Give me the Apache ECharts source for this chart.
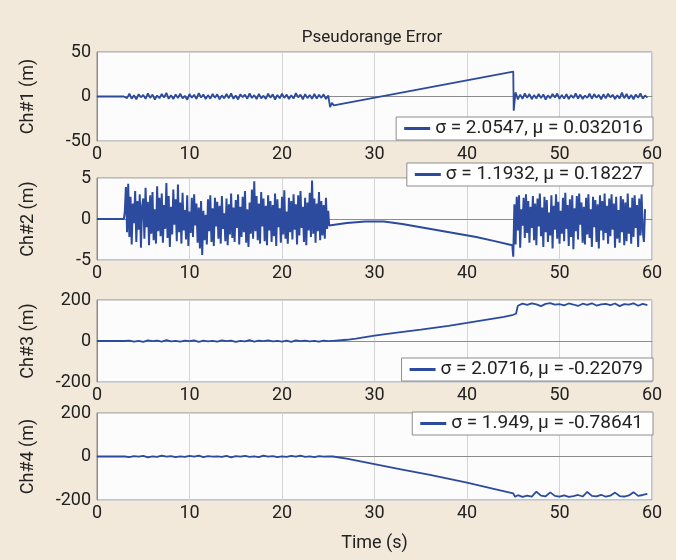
<!DOCTYPE html>
<html>
<head>
<meta charset="utf-8">
<script src="https://cdn.jsdelivr.net/npm/echarts@6/dist/echarts.min.js"></script>
<style>
  html, body { margin: 0; padding: 0; background: #f2e9da; }
  #chart { width: 676px; height: 560px; }
</style>
</head>
<body>
<div id="chart"></div>
<script>
// legend labels and axis names
const channelNames = ["Ch#1 (m)", "Ch#2 (m)", "Ch#3 (m)", "Ch#4 (m)"]
const legendNames = [
  "σ = 2.0547, μ = 0.032016",
  "σ = 1.1932, μ = 0.18227",
  "σ = 2.0716, μ = -0.22079",
  "σ = 1.949, μ = -0.78641"
]
const xTicks = [0, 10, 20, 30, 40, 50, 60]

// Ch#1: flat, noisy (every 0.25 s), ramp, jump, noisy
const ch1Head = [[0, 0], [2.9, 0]]
const ch1NoiseA = [2.1, -1.8, 3.2, -2.5, 1.4, -3.1, 2.6, -0.9, 1.8, -2.7, 3.5, -1.6,
  2.2, -3.4, 1.1, -2.0, 2.9, -1.2, 4.1, -2.6, 1.5, -3.0, 2.4, -1.7,
  3.3, -2.2, 0.8, -3.6, 2.7, -1.4, 1.9, -2.8, 3.8, -1.1, 2.3, -2.9,
  1.6, -2.4, 3.0, -1.5, 2.5, -3.2, 1.3, -2.1, 2.8, -1.9, 3.4, -2.6,
  1.2, -3.3, 2.6, -0.8, 2.0, -2.5, 3.6, -1.7, 1.5, -3.0, 2.9, -2.2,
  0.9, -2.7, 3.1, -1.3, 2.4, -3.5, 1.7, -2.0, 3.3, -1.6, 2.2, -2.8,
  1.4, -2.3, 3.7, -1.0, 2.1, -3.1, 2.7, -1.8, 1.6, -2.6, 3.0, -2.4,
  1.9, -1.5, 2.5, -2.9, 1.2]
const ch1Mid = [[25.2, -12], [25.4, -7], [25.6, -10], [45, 28], [45.05, -16]]
const ch1NoiseB = [4.8, -3.2, 2.1, -2.6, 3.4, -1.5, 2.8, -3.1, 1.6, -2.2, 3.0, -1.8,
  2.4, -3.5, 1.3, -2.0, 2.9, -1.2, 3.3, -2.7, 1.8, -2.4, 2.6, -3.0,
  1.5, -1.7, 3.6, -2.3, 2.2, -2.9, 1.1, -1.6, 3.1, -2.5, 2.7, -1.4,
  1.9, -3.3, 2.5, -2.1, 3.2, -1.0, 2.0, -2.8, 1.4, -2.2, 4.3, -1.9,
  2.8, -2.6, 1.7, -3.1, 2.3, -1.5, 3.5, -2.4, 1.2, -1.3]

// Ch#2: noise every 0.125 s
const ch2Head = [[0, 0], [2.9, 0]]
const ch2NoiseA = [0.8, 3.9, -1.6, 4.3, -2.2, 2.7, -3.1, 1.9, -0.5, 3.4, -2.8, 2.2, -1.3, 3.0, -3.5, 1.6,
  2.5, -2.4, 3.8, -1.0, 2.1, -3.2, 2.9, -1.8, 3.3, -2.6, 1.2, -3.0, 4.0, -1.5, 2.6, -2.1,
  3.1, -2.9, 1.7, -1.2, 4.4, -2.3, 2.8, -3.4, 1.5, -1.9, 3.6, -0.7, 2.4, -2.7, 4.2, -1.6,
  2.0, -3.0, 3.2, -1.4, 1.1, -2.5, 2.9, -3.3, 0.9, -1.7, 2.6, -2.2, 3.0, -0.8, 1.9, -2.9,
  1.4, -3.6, 2.2, -4.4, 1.0, -2.6, 0.5, -3.1, 2.4, -1.5, 2.9, -2.8, 1.3, -3.3, 2.6, -0.9,
  2.1, -2.4, 1.6, -3.0, 2.8, -1.2, 0.7, -2.7, 2.5, -3.2, 1.8, -1.9, 3.1, -2.3, 1.4, -2.8,
  2.3, -1.1, 3.0, -3.1, 1.5, -2.2, 2.7, -1.6, 3.4, -2.9, 1.2, -3.4, 2.0, -1.8, 3.6, -2.4,
  4.6, -1.5, 2.8, -2.6, 1.9, -3.0, 3.3, -0.9, 2.5, -2.7, 1.6, -3.2, 2.9, -1.4, 2.2, -2.8,
  1.7, -2.1, 3.1, -3.3, 2.4, -1.0, 1.3, -2.9, 2.7, -1.9, 3.5, -2.4, 0.9, -3.0, 2.6, -1.6,
  2.2, -2.5, 3.0, -1.3, 1.8, -3.1, 2.9, -2.0, 3.4, -1.1, 1.5, -2.8, 2.6, -3.2, 2.0, -1.4,
  3.2, -2.2, 4.7, -1.8, 2.5, -2.9, 1.9, -1.5, 3.3, -2.6, 2.2, -2.0, 1.7, -2.4, 2.6, -1.2,
  1.0]
const ch2Mid = [[25.1, -0.8], [27, -0.5], [29, -0.3], [31, -0.3], [33, -0.6],
  [35, -1.0], [37, -1.4], [39, -1.8], [41, -2.2], [43, -2.7], [44.9, -3.2], [45, -4.6]]
const ch2NoiseB = [1.8, -3.1, 2.7, -1.4, 2.9, -3.5, 1.2, -0.8, 2.6, -2.3, 3.0, -1.7, 2.2, -2.9, 1.5, -1.1,
  2.8, -2.6, 1.9, -3.2, 2.5, -0.9, 3.1, -2.1, 1.4, -3.4, 2.7, -1.6, 2.3, -2.8, 0.8, -2.0,
  2.9, -3.6, 1.6, -1.3, 3.0, -2.4, 2.1, -3.0, 1.0, -1.8, 2.6, -2.7, 3.2, -1.2, 1.7, -3.3,
  2.4, -2.2, 2.9, -3.7, 1.3, -1.5, 2.8, -2.5, 3.1, -0.7, 2.0, -2.9, 1.5, -3.1, 2.6, -1.9,
  3.0, -2.3, 1.2, -3.4, 2.7, -1.0, 2.3, -2.8, 1.8, -3.6, 2.9, -1.4, 2.2, -2.6, 3.1, -1.7,
  1.6, -3.0, 2.5, -2.1, 3.0, -1.3, 1.9, -3.5, 2.7, -2.4, 1.1, -2.9, 2.8, -1.6, 2.4, -3.2,
  2.0, -2.7, 3.1, -1.8, 1.4, -3.0, 2.6, -2.2, 2.9, -1.1, 1.7, -3.4, 2.5, -2.0, 3.0, -1.5,
  -2.8, 1.2]

// Ch#3
const ch3Head = [[0, 0], [3, 0]]
const ch3NoiseA = [2, -3, 1, -4, 3, -1, 2, -3, 4, -2, 1, -3, 2, -1, 3, -4, 2, -2, 1, -3,
  3, -1, 2, -4, 1, -2, 4, -3, 2, -1, 3, -2, 1, -3, 2, -4, 3, -1, 2, -2, 1, -3, 2, -1]
const ch3Mid = [[25.5, 1], [27, 6], [28, 12], [30, 26], [32, 38], [35, 55], [38, 74],
  [40, 88], [42, 103], [44, 118], [45, 128], [45.3, 133]]
const ch3NoiseB = [172, 182, 176, 184, 179, 170, 181, 185, 177, 180, 174, 183, 178, 171, 182,
  176, 184, 173, 179, 181, 175, 183, 170, 180, 177, 184, 172, 181, 175]

// Ch#4
const ch4Head = [[0, 0], [3, 0]]
const ch4NoiseA = [-3, 2, -1, 3, -4, 1, -2, 4, -1, 2, -3, 1, -2, 3, -1, 4, -3, 2, -1, 1,
  -2, 3, -4, 2, -1, 3, -2, 1, -3, 4, -1, 2, -3, 1, -2, 3, -1, 4, -2, 1, -3, 2, -1, 1]
const ch4Mid = [[25.5, 0], [27, -10], [30, -35], [33, -60], [36, -85], [40, -120],
  [43, -150], [45, -170], [45.2, -185]]
const ch4NoiseB = [-178, -186, -180, -184, -162, -180, -183, -165, -181, -185, -179, -186,
  -182, -177, -184, -163, -181, -183, -176, -185, -180, -166, -182, -184, -179, -164,
  -181, -177, -172]

const yRanges = [[-50, 50, 50], [-5, 5, 5], [-200, 200, 200], [-200, 200, 200]]

function build(head, noiseA, startA, dtA, mid, noiseB, startB, dtB) {
  return head
    .concat(noiseA.map((v, i) => [startA + i * dtA, v]))
    .concat(mid)
    .concat(noiseB.map((v, i) => [startB + i * dtB, v]))
}

const seriesData = [
  build(ch1Head, ch1NoiseA, 3, 0.25, ch1Mid, ch1NoiseB, 45.25, 0.25),
  build(ch2Head, ch2NoiseA, 3, 0.125, ch2Mid, ch2NoiseB, 45.125, 0.125),
  build(ch3Head, ch3NoiseA, 3.5, 0.5, ch3Mid, ch3NoiseB, 45.5, 0.5),
  build(ch4Head, ch4NoiseA, 3.5, 0.5, ch4Mid, ch4NoiseB, 45.5, 0.5)
]

const FONT = "Roboto, 'Noto Sans', sans-serif"
const TXT = { fontFamily: FONT, fontSize: 18, color: "#222" }
const LINE = "#2c4a9e"
const grids = [
  { top: 52, height: 89 },
  { top: 178, height: 82 },
  { top: 300, height: 82 },
  { top: 413, height: 87 }
]
const legendTops = [117, 163, 358, 412]

const chart = echarts.init(document.getElementById("chart"))
chart.setOption({
  backgroundColor: "#f2e9da",
  animation: false,
  textStyle: { fontFamily: FONT },
  title: {
    text: "Pseudorange Error",
    left: 367,
    top: 24,
    textAlign: "center",
    textStyle: { ...TXT, fontSize: 17, fontWeight: "normal" }
  },
  grid: grids.map((g) => ({
    left: 97, right: 24, top: g.top, height: g.height,
    show: true, backgroundColor: "#fcfcfc", borderColor: "#8c8c8c", borderWidth: 1
  })),
  legend: legendNames.map((n, i) => ({
    data: [n],
    right: 23,
    top: legendTops[i],
    icon: "rect",
    itemWidth: 26,
    itemHeight: 3,
    backgroundColor: "#fff",
    borderColor: "#8c8c8c",
    borderWidth: 1,
    borderRadius: 0,
    padding: [2, 10, 2, 8],
    textStyle: { ...TXT, fontSize: 19 }
  })),
  xAxis: grids.map((g, i) => ({
    type: "value",
    gridIndex: i,
    min: 0, max: 60, interval: 10,
    name: i === 3 ? "Time (s)" : "",
    nameLocation: "middle",
    nameGap: 34,
    nameTextStyle: TXT,
    axisLine: { lineStyle: { color: "#8c8c8c" } },
    axisTick: { show: false },
    axisLabel: { ...TXT, margin: 4 },
    splitLine: { lineStyle: { color: "#d4d4d4" } }
  })),
  yAxis: yRanges.map((r, i) => ({
    type: "value",
    gridIndex: i,
    min: r[0], max: r[1], interval: r[2],
    name: channelNames[i],
    nameLocation: "middle",
    nameGap: 60,
    nameTextStyle: TXT,
    axisLine: { show: true, lineStyle: { color: "#8c8c8c" } },
    axisTick: { show: false },
    axisLabel: { ...TXT, margin: 6 },
    splitLine: { lineStyle: { color: "#d4d4d4" } }
  })),
  series: seriesData.map((d, i) => ({
    name: legendNames[i],
    type: "line",
    xAxisIndex: i,
    yAxisIndex: i,
    data: d,
    showSymbol: false,
    color: LINE,
    lineStyle: { width: i === 1 ? 2 : 1.8, color: LINE }
  }))
})
</script>
</body>
</html>
